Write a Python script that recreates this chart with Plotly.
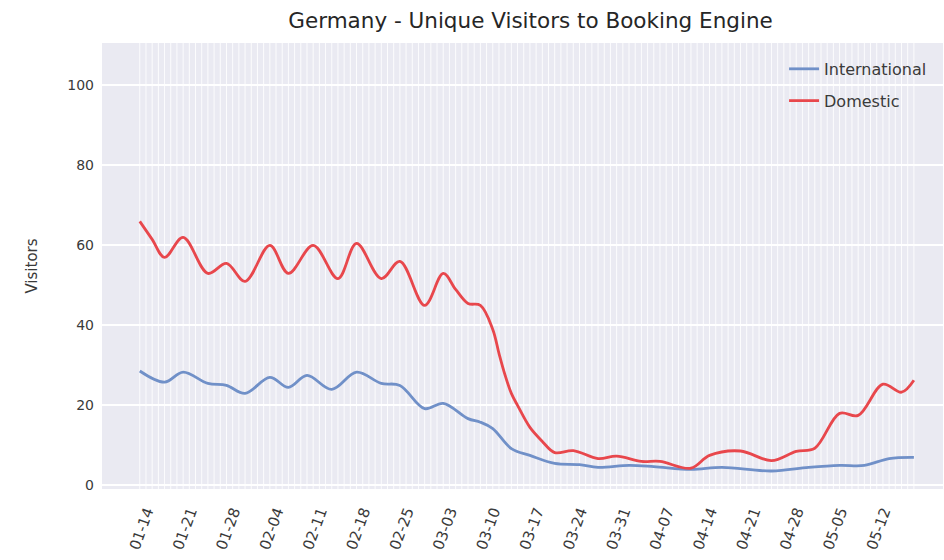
import plotly.graph_objects as go
import pandas as pd

# ---- data ----
dom_dates = ["2020-01-14", "2020-01-16", "2020-01-18", "2020-01-21", "2020-01-25", "2020-01-28",
             "2020-01-31", "2020-02-04", "2020-02-07", "2020-02-11", "2020-02-15", "2020-02-18",
             "2020-02-22", "2020-02-25", "2020-02-29", "2020-03-03", "2020-03-05", "2020-03-07",
             "2020-03-09", "2020-03-11", "2020-03-12", "2020-03-13", "2020-03-14", "2020-03-15",
             "2020-03-17", "2020-03-19", "2020-03-21", "2020-03-24", "2020-03-28", "2020-03-31",
             "2020-04-04", "2020-04-07", "2020-04-12", "2020-04-15", "2020-04-20", "2020-04-25",
             "2020-04-29", "2020-05-02", "2020-05-06", "2020-05-09", "2020-05-13", "2020-05-16",
             "2020-05-18"]
dom_values = [66, 61.5, 57, 62, 53, 55.5,
              51, 60, 53, 60, 51.7, 60.5,
              51.7, 56, 45, 53, 49, 45.5,
              45, 39, 33, 27.5, 23, 20,
              14.5, 11, 8.2, 8.7, 6.7, 7.3,
              6, 6, 4.3, 7.5, 8.6, 6.2,
              8.5, 9.3, 18, 17.5, 25.3, 23.3,
              26.3]

intl_dates = ["2020-01-14", "2020-01-18", "2020-01-21", "2020-01-25", "2020-01-28", "2020-01-31",
              "2020-02-04", "2020-02-07", "2020-02-10", "2020-02-14", "2020-02-18", "2020-02-22",
              "2020-02-25", "2020-02-29", "2020-03-03", "2020-03-07", "2020-03-09", "2020-03-11",
              "2020-03-14", "2020-03-17", "2020-03-21", "2020-03-25", "2020-03-28", "2020-04-02",
              "2020-04-06", "2020-04-12", "2020-04-17", "2020-04-25", "2020-05-01", "2020-05-06",
              "2020-05-10", "2020-05-14", "2020-05-18"]
intl_values = [28.6, 25.8, 28.3, 25.5, 25, 23,
               27, 24.5, 27.5, 24, 28.3, 25.5,
               25, 19.2, 20.5, 16.7, 15.8, 14.2,
               9.2, 7.5, 5.5, 5.2, 4.5, 5,
               4.7, 4, 4.5, 3.6, 4.5, 5,
               5, 6.7, 7]

tick_dates = ["2020-01-14", "2020-01-21", "2020-01-28", "2020-02-04", "2020-02-11", "2020-02-18",
              "2020-02-25", "2020-03-03", "2020-03-10", "2020-03-17", "2020-03-24", "2020-03-31",
              "2020-04-07", "2020-04-14", "2020-04-21", "2020-04-28", "2020-05-05", "2020-05-12"]
tick_labels = ["01-14", "01-21", "01-28", "02-04", "02-11", "02-18", "02-25", "03-03", "03-10",
               "03-17", "03-24", "03-31", "04-07", "04-14", "04-21", "04-28", "05-05", "05-12"]
y_ticks = [0, 20, 40, 60, 80, 100]

FONT = "DejaVu Sans"
TXT = "#3a3a3a"

fig = go.Figure()
fig.add_trace(go.Scatter(x=intl_dates, y=intl_values, name="International", mode="lines",
                         line=dict(color="#7090c8", width=2.8, shape="spline", smoothing=1.0),
                         legendgroup="a"))
fig.add_trace(go.Scatter(x=dom_dates, y=dom_values, name="Domestic", mode="lines",
                         line=dict(color="#e8474c", width=2.8, shape="spline", smoothing=1.0),
                         legendgroup="b"))

# daily vertical grid lines over the data span
days = pd.date_range(dom_dates[0], dom_dates[-1], freq="D")
shapes = [dict(type="line", xref="x", yref="paper", x0=d, x1=d, y0=0, y1=1,
               line=dict(color="rgba(255,255,255,0.85)", width=1), layer="below") for d in days]

fig.update_layout(
    width=944, height=560,
    margin=dict(l=102, r=1, t=43, b=71, autoexpand=False),
    paper_bgcolor="white", plot_bgcolor="#eaeaf2",
    title=dict(text="Germany - Unique Visitors to Booking Engine", x=0.562, xanchor="center",
               y=0.963, yanchor="middle", font=dict(family=FONT, size=21.5, color="#262626")),
    font=dict(family=FONT, color=TXT),
    shapes=shapes,
    showlegend=True,
    legend=dict(x=0.811, xanchor="left", y=0.98, yanchor="top", bgcolor="rgba(0,0,0,0)",
                font=dict(family=FONT, size=16, color=TXT), tracegroupgap=8),
)
fig.update_xaxes(type="date", range=["2020-01-07 21:36", "2020-05-22 16:48"],
                 tickmode="array", tickvals=tick_dates, ticktext=tick_labels, tickangle=-70,
                 tickfont=dict(family=FONT, size=15, color=TXT), showgrid=False,
                 zeroline=False, showline=False, ticks="", automargin=False,
                 ticklabelstandoff=10, ticklabelshift=7)
fig.update_yaxes(range=[-0.9, 110.6], tickmode="array", tickvals=y_ticks,
                 tickfont=dict(family=FONT, size=14, color=TXT), showgrid=True,
                 gridcolor="white", gridwidth=1.5, zeroline=False, showline=False, ticks="",
                 automargin=False, ticklabelstandoff=7,
                 title=dict(text="Visitors", font=dict(family=FONT, size=15, color=TXT), standoff=26))

fig.write_html("out.html", config={"displayModeBar": False},
               post_script="document.body.style.margin='0';")
